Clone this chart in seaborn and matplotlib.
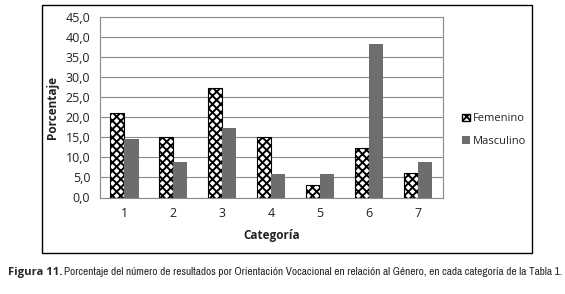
import matplotlib
matplotlib.use("Agg")
import matplotlib.pyplot as plt
import seaborn as sns
import pandas as pd
from matplotlib.patches import Rectangle, Patch
from matplotlib.ticker import FuncFormatter, MultipleLocator
from matplotlib import font_manager

categories = ["1", "2", "3", "4", "5", "6", "7"]
femenino = [21.0, 15.0, 27.2, 15.0, 3.0, 12.4, 6.0]
masculino = [14.6, 8.8, 17.4, 5.8, 5.8, 38.1, 8.8]
series_names = ["Femenino", "Masculino"]
caption_bold = "Figura 11."
caption_text = ("Porcentaje del número de resultados por Orientación Vocacional en relación al Género, "
                "en cada categoría de la Tabla 1.")

df = pd.DataFrame({
    "Categoría": categories * 2,
    "Porcentaje": femenino + masculino,
    "Género": [series_names[0]] * len(categories) + [series_names[1]] * len(categories),
})

sns.set_style("white")
plt.rcParams["font.family"] = ["Open Sans", "DejaVu Sans"]
plt.rcParams["hatch.linewidth"] = 1.4

W, H = 565, 294
fig = plt.figure(figsize=(W / 100, H / 100), dpi=100)
ax = fig.add_axes([100 / W, (H - 197.5) / H, (442.5 - 100) / W, (197.5 - 16.7) / H])

gray = "#6d6d6d"
sns.barplot(data=df, x="Categoría", y="Porcentaje", hue="Género",
            palette={series_names[0]: "white", series_names[1]: gray},
            width=0.574, gap=0, ax=ax, legend=False, saturation=1)

for bar in ax.containers[0]:
    bar.set_hatch("xxxx")
    bar.set_edgecolor("black")
    bar.set_linewidth(0.8)
for bar in ax.containers[1]:
    bar.set_edgecolor("none")

ax.set_ylim(0, 45)
ax.yaxis.set_major_locator(MultipleLocator(5))
ax.yaxis.set_major_formatter(FuncFormatter(lambda v, p: f"{v:.1f}".replace(".", ",")))
ax.grid(axis="y", color="#8a8a8a", linewidth=0.8)
ax.set_axisbelow(True)
for s in ax.spines.values():
    s.set_color("#8a8a8a")
    s.set_linewidth(0.8)
ax.tick_params(axis="y", length=4, width=0.8, color="#8a8a8a", labelsize=9, pad=3, labelcolor="#222222")
ax.tick_params(axis="x", length=0, labelsize=9, pad=7, labelcolor="#222222")
ax.set_xlabel("Categoría", fontsize=8.5, fontweight="bold", labelpad=6, color="#222222")
ax.set_ylabel("Porcentaje", fontsize=8.5, fontweight="bold", labelpad=5, color="#222222")

handles = [Patch(facecolor="white", edgecolor="black", hatch="xxxx", label=series_names[0]),
           Patch(facecolor=gray, edgecolor="none", label=series_names[1])]
fig.legend(handles=handles, loc="center left", bbox_to_anchor=(452 / W, 1 - 130 / H),
           frameon=False, fontsize=8, handlelength=0.7, handleheight=0.7,
           handletextpad=0.3, labelspacing=1.0)

fig.patches.append(Rectangle((41.5 / W, (H - 252.7) / H), (531.5 - 41.5) / W,
                             (252.7 - 5.3) / H, transform=fig.transFigure,
                             fill=False, edgecolor="black", linewidth=1.0))

# caption: prefer a condensed face if installed
cap_font = "Liberation Sans"
for f in font_manager.fontManager.ttflist:
    if ("Narrow" in f.name or "Condensed" in f.name) and f.weight in (400, "normal", "regular"):
        cap_font = f.name
        break

yc = 1 - 272 / H
t1 = fig.text(8 / W, yc, caption_bold, fontsize=9, fontweight="bold",
              family=["Open Sans", "DejaVu Sans"], va="center", ha="left")
t2 = fig.text(64 / W, yc, caption_text, fontsize=8, family=cap_font, va="center", ha="left")

renderer = fig.canvas.get_renderer()
w1 = t1.get_window_extent(renderer).width
t1.set_fontsize(9 * 54 / w1)
w2 = t2.get_window_extent(renderer).width
t2.set_fontsize(8 * (560 - 64) / w2)

fig.savefig("out.png", dpi=100)
